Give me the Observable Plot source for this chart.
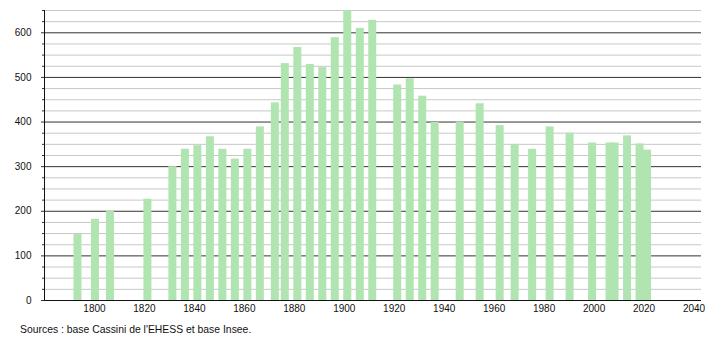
<!DOCTYPE html>
<html>
<head>
<meta charset="utf-8">
<script src="https://cdn.jsdelivr.net/npm/d3@7"></script>
<script src="https://cdn.jsdelivr.net/npm/@observablehq/plot@0.6"></script>
<style>
  html, body { margin: 0; padding: 0; background: #fff; }
  #chart svg { display: block; }
  .caption { font-family: "Liberation Sans", Arial, sans-serif; font-size: 10.4px; color: #111; margin: 6px 0 0 20px; line-height: 12px; }
</style>
</head>
<body>
<div id="chart"></div>
<script>
const years = [1793, 1800, 1806, 1821, 1831, 1836, 1841, 1846, 1851, 1856, 1861, 1866, 1872, 1876, 1881, 1886, 1891, 1896, 1901, 1906, 1911, 1921, 1926, 1931, 1936, 1946, 1954, 1962, 1968, 1975, 1982, 1990, 1999, 2006, 2008, 2013, 2018, 2021];
const population = [148, 182, 200, 227, 300, 339, 347, 367, 339, 317, 339, 389, 443, 531, 567, 529, 522, 589, 650, 610, 628, 483, 497, 458, 399, 400, 441, 392, 350, 339, 389, 375, 353, 353, 353, 369, 351, 337];
const xTicks = [1800, 1820, 1840, 1860, 1880, 1900, 1920, 1940, 1960, 1980, 2000, 2020, 2040];
const yMajor = [0, 100, 200, 300, 400, 500, 600];
const yMinor = [25, 50, 75, 125, 150, 175, 225, 250, 275, 325, 350, 375, 425, 450, 475, 525, 550, 575, 625, 650];
const caption = "Sources : base Cassini de l'EHESS et base Insee.";

const data = years.map((y, i) => ({year: y, pop: population[i]}));

const chart = Plot.plot({
  width: 710,
  height: 318,
  marginLeft: 44,
  marginRight: 9,
  marginTop: 10,
  marginBottom: 18,
  style: {fontFamily: "'Liberation Sans', Arial, sans-serif", fontSize: "10px", color: "#111"},
  x: {domain: [1780, 2043]},
  y: {domain: [0, 650]},
  marks: [
    Plot.ruleY(yMinor, {stroke: "#c8c8c8", strokeWidth: 1}),
    Plot.ruleY(yMajor, {stroke: "#333", strokeWidth: 1}),
    Plot.rectY(data, {x1: d => d.year - 1.2, x2: d => d.year + 2.0, y1: 0, y2: "pop", fill: "#b0e4b0"}),
    Plot.ruleY([0], {stroke: "#111", strokeWidth: 1}),
    Plot.ruleX([1780], {stroke: "#111", strokeWidth: 1}),
    Plot.axisY({ticks: yMinor, tickSize: 2, text: null, stroke: "#333", label: null}),
    Plot.axisY({ticks: yMajor, tickSize: 3, tickPadding: 10, tickFormat: d => String(d), stroke: "#333", label: null}),
    Plot.axisX({ticks: xTicks, tickSize: 0, tickPadding: 4, tickFormat: d => String(d), label: null})
  ]
});
document.getElementById("chart").appendChild(chart);
const cap = document.createElement("div");
cap.className = "caption";
cap.textContent = caption;
document.body.appendChild(cap);
</script>
</body>
</html>
